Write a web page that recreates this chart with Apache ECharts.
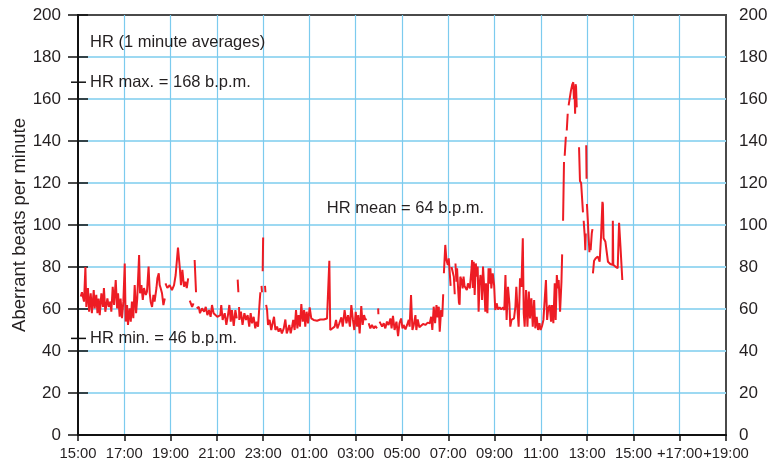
<!DOCTYPE html>
<html>
<head>
<meta charset="utf-8">
<script src="https://cdn.jsdelivr.net/npm/echarts@6/dist/echarts.min.js"></script>
<style>html,body{margin:0;padding:0;background:#fff}#c{width:771px;height:468px}</style>
</head>
<body>
<div id="c"></div>
<script>
// x tick labels (every 2 hours starting 15:00)
const xTickLabels = ['15:00','17:00','19:00','21:00','23:00','01:00','03:00','05:00','07:00','09:00','11:00','13:00','15:00','+17:00','+19:00'];
const yAxisName = 'Aberrant beats per minute';
const hrMax = 168, hrMin = 46, hrMean = 64;
// [hours after 15:00, bpm]; null = gap
const hrTrace = [
[0.12,66],[0.17,68],[0.26,63.5],[0.32,80],[0.36,61],[0.43,70],[0.48,58.7],[0.55,67.5],[0.6,58],[0.68,69],
[0.72,60.3],[0.79,66.7],[0.84,58],[0.89,65],[0.94,57.1],[1.01,67.5],[1.08,61],[1.12,70],[1.18,58.7],[1.27,65],
[1.33,61],[1.4,63.5],[1.44,58.7],[1.5,70.6],[1.56,61.9],[1.63,73.8],[1.69,60.3],[1.73,67.5],[1.8,56.3],[1.84,65],
[1.9,55.6],[1.96,63.5],[2.02,81.7],[2.06,54],[2.12,61.9],[2.16,52.4],[2.23,60.3],[2.28,54],[2.33,63.5],[2.39,55.6],
[2.45,71.4],[2.51,58],[2.56,65],[2.64,85.7],[2.68,67.5],[2.74,71.4],[2.8,64.3],[2.85,70],[2.93,66.7],[2.98,68.3],
[3.05,80.2],[3.1,67.5],[3.14,63.5],[3.2,61],[3.26,66.7],[3.31,63.5],[3.39,70],[3.43,74.6],[3.49,77],[3.53,71.4],
[3.57,70],[3.63,67.5],[3.69,61.9],[3.75,65],[3.76,null],[3.78,72.2],[3.86,70],[3.96,71.4],[4.06,69],[4.15,71.4],
[4.22,76.2],[4.32,89.2],[4.4,79.4],[4.45,71.4],[4.51,78.6],[4.58,70.6],[4.64,73],[4.7,70],[4.76,74.6],[4.8,null],
[4.83,64],[4.87,63.5],[4.93,61],[4.99,62.7],[5.01,null],[5.04,83.3],[5.1,68],[5.11,null],[5.13,60.3],[5.22,61],
[5.27,58],[5.36,60.3],[5.45,58.7],[5.52,61],[5.59,57.1],[5.66,59.5],[5.73,56.3],[5.79,61.9],[5.86,58],[5.94,57.1],
[6.02,56.3],[6.1,56],[6.15,57.1],[6.19,61.9],[6.25,54.8],[6.34,58],[6.41,52.4],[6.48,57.1],[6.54,61.9],[6.6,54],
[6.65,59.5],[6.73,52],[6.8,59.5],[6.86,55.5],[6.88,null],[6.9,74],[6.93,68],[6.94,null],[6.96,61],[6.97,54.8],
[7.04,58.7],[7.11,52.4],[7.19,58],[7.26,54.8],[7.33,57.1],[7.4,51.6],[7.46,58],[7.52,53.2],[7.59,56.3],[7.66,50.8],
[7.72,54],[7.78,51.6],[7.85,63.5],[7.88,68],[7.9,null],[7.93,71],[7.95,68],[7.96,null],[7.98,78],[8.0,94],
[8.01,null],[8.08,71],[8.1,68],[8.11,null],[8.13,62],[8.17,59.5],[8.21,52.4],[8.28,54.8],[8.35,50],[8.41,53.2],
[8.47,56.3],[8.53,50],[8.6,51.6],[8.67,49.2],[8.74,50.8],[8.81,48.4],[8.89,50.8],[8.96,55],[9.02,48.4],[9.07,50],
[9.13,52.4],[9.19,48.4],[9.25,51.6],[9.3,54.8],[9.36,50],[9.42,59.5],[9.48,50.8],[9.53,57.1],[9.59,51.6],[9.65,62.4],
[9.71,54],[9.77,59.5],[9.82,51.6],[9.88,58.7],[9.94,53.2],[10.01,60.8],[10.08,55.5],[10.18,54.8],[10.33,54.4],[10.47,55],
[10.62,55],[10.76,55.5],[10.83,56],[10.86,83],[10.9,50],[10.97,50.3],[11.09,51.6],[11.15,54.8],[11.21,50.8],[11.29,53.2],
[11.38,56],[11.44,51.6],[11.52,59.5],[11.6,53.2],[11.67,57.1],[11.75,51.6],[11.81,61.9],[11.88,54.8],[11.94,50],[12.0,58.7],
[12.06,51.6],[12.11,57.1],[12.17,48.4],[12.24,61.4],[12.3,52.4],[12.36,57.1],[12.42,54.8],[12.46,55.5],[12.5,null],[12.56,53.2],
[12.63,50.8],[12.7,52.4],[12.78,50.8],[12.85,51.9],[12.92,50.8],[12.94,null],[12.97,60.3],[12.98,57.5],[12.99,null],[13.03,54],
[13.06,54.8],[13.14,51.6],[13.21,53.2],[13.28,50.8],[13.35,54],[13.42,52.4],[13.5,55.5],[13.55,50.8],[13.61,56.7],[13.68,50],
[13.76,54],[13.83,47.1],[13.89,53.2],[13.96,55.5],[14.02,50.8],[14.07,52.4],[14.15,50.3],[14.22,52.4],[14.29,54.8],[14.33,51.6],
[14.39,66.7],[14.45,50],[14.51,52.4],[14.58,57.1],[14.62,50],[14.68,55],[14.75,51.3],[14.82,51.6],[14.91,52.9],[15.01,52.4],
[15.11,53.5],[15.2,53.2],[15.26,56.3],[15.31,50],[15.37,61.1],[15.43,53.2],[15.49,61.9],[15.54,56],[15.59,61.1],[15.63,49.2],
[15.69,59.5],[15.74,56.3],[15.78,67],[15.79,null],[15.81,77],[15.87,90.5],[15.92,83.3],[15.98,81],[16.02,84.1],[16.06,77.8],
[16.1,71],[16.11,null],[16.14,80],[16.18,80.2],[16.24,75.4],[16.28,67],[16.29,null],[16.31,81.7],[16.35,73],[16.38,79.4],
[16.42,70.6],[16.46,63],[16.49,62],[16.52,75.4],[16.57,73.8],[16.62,69.8],[16.66,75.4],[16.7,71],[16.74,71.4],[16.8,69],
[16.85,72.2],[16.93,69.8],[17.0,78.6],[17.03,83.3],[17.06,70],[17.1,82.5],[17.14,66.7],[17.19,81.7],[17.23,75.4],[17.27,80.2],
[17.31,58.7],[17.35,71],[17.39,76.2],[17.44,72.2],[17.46,64.3],[17.5,80.2],[17.57,66.7],[17.6,58.7],[17.63,72.2],[17.69,58],
[17.74,79.4],[17.78,72],[17.82,79.4],[17.86,69.8],[17.92,77],[17.98,71.4],[18.03,59.5],[18.09,62.7],[18.15,59.8],[18.22,60.8],
[18.29,59.8],[18.37,60.8],[18.42,59.5],[18.47,76.2],[18.52,54.8],[18.58,70.6],[18.64,62.7],[18.68,51.6],[18.73,54.8],[18.78,55.1],
[18.84,55.5],[18.9,61.1],[18.94,70.6],[19.0,58],[19.04,51.6],[19.1,74.6],[19.16,70.6],[19.22,93.7],[19.26,58],[19.3,51.6],
[19.36,69],[19.42,51.6],[19.48,68.3],[19.53,55.5],[19.59,65.1],[19.65,51.6],[19.71,64.3],[19.76,50.8],[19.82,56.3],[19.88,50],
[19.94,53.2],[19.99,50],[20.05,51.9],[20.11,54.8],[20.17,54],[20.22,73.8],[20.27,54.8],[20.32,60.3],[20.38,61.9],[20.44,54],
[20.48,61.9],[20.54,53.2],[20.6,72.2],[20.64,54.8],[20.69,76.2],[20.74,69.8],[20.77,73.8],[20.83,58.7],[20.89,73],[20.92,86],
[20.94,null],[20.96,102],[21.0,130],[21.02,null],[21.03,133],[21.08,142],[21.1,null],[21.12,145],[21.16,153],[21.18,null],
[21.2,157],[21.3,164],[21.36,167],[21.4,168],[21.43,160],[21.45,166],[21.48,153],[21.5,167],[21.52,166],[21.55,156],
[21.56,null],[21.65,137],[21.69,121],[21.74,120],[21.82,106],[21.83,null],[21.85,102],[21.9,94],[21.92,88],[21.94,96],
[21.95,null],[21.96,138],[21.975,122],[21.98,null],[21.99,110],[22.03,102],[22.06,95],[22.1,87],[22.12,null],[22.15,88],
[22.2,96],[22.23,98],[22.235,null],[22.25,77],[22.3,83],[22.36,84],[22.46,85],[22.5,84.5],[22.54,82.5],[22.6,94.4],
[22.66,111],[22.68,110],[22.71,93.7],[22.79,92],[22.84,91.3],[22.9,82.5],[23.0,81.4],[23.1,81],[23.11,102],[23.13,81],
[23.22,80.2],[23.32,79.4],[23.38,101],[23.44,89.7],[23.52,73.8]
];

const FONT = "'Liberation Sans',Arial,Helvetica,sans-serif";
const chart = echarts.init(document.getElementById('c'), null, {renderer: 'canvas'});
const txt = '#231f20';
const lastIdx = xTickLabels.length - 1;
const xLabelStyle = {margin: 11, color: txt, fontFamily: FONT, fontSize: 14.8, hideOverlap: false};
const option = {
  animation: false,
  backgroundColor: '#fff',
  grid: {left: 78, right: 45, top: 15, bottom: 33, containLabel: false, outerBoundsMode: 'none',
    show: true, borderColor: '#4a4a4a', borderWidth: 2, backgroundColor: 'transparent'},
  xAxis: [{
    type: 'value', min: 0, max: 28, interval: 2,
    axisLine: {lineStyle: {color: '#111', width: 2}},
    axisTick: {length: 6, lineStyle: {color: '#111', width: 1.5}},
    axisLabel: Object.assign({}, xLabelStyle, {showMinLabel: true,
      formatter: v => { const i = Math.round(v / 2); return i < lastIdx ? xTickLabels[i] : ''; }}),
    splitLine: {show: true, showMaxLine: false, showMinLine: false, lineStyle: {color: '#7ccbee', width: 1.2}}
  }, {
    // carries only the last tick label so it is not dropped by min/max overlap logic
    type: 'value', min: 0, max: 28, interval: 2, position: 'bottom',
    axisLine: {show: false}, axisTick: {show: false}, splitLine: {show: false},
    axisLabel: Object.assign({}, xLabelStyle, {showMaxLabel: true,
      formatter: v => { const i = Math.round(v / 2); return i === lastIdx ? xTickLabels[i] : ''; }})
  }],
  yAxis: [{
    type: 'value', min: 0, max: 200, interval: 20, position: 'left',
    name: yAxisName, nameLocation: 'middle', nameGap: 49, nameMoveOverlap: false,
    nameTextStyle: {color: txt, fontFamily: FONT, fontSize: 18.5},
    axisLine: {show: true, lineStyle: {color: '#111', width: 2}},
    axisTick: {show: true, length: 10, lineStyle: {color: '#111', width: 1.5}},
    axisLabel: {margin: 17, color: txt, fontFamily: FONT, fontSize: 17, showMinLabel: true, showMaxLabel: true},
    splitLine: {show: true, showMaxLine: false, showMinLine: false, lineStyle: {color: '#9dd9f2', width: 2}}
  }, {
    type: 'value', min: 0, max: 200, interval: 20, position: 'right',
    axisLine: {show: true, lineStyle: {color: '#111', width: 2}},
    axisTick: {show: true, length: 10, lineStyle: {color: '#111', width: 1.5}},
    axisLabel: {margin: 13, color: txt, fontFamily: FONT, fontSize: 17, showMinLabel: true, showMaxLabel: true},
    splitLine: {show: false}
  }],
  series: [{
    type: 'line', xAxisIndex: 0, yAxisIndex: 0, data: hrTrace, showSymbol: false, symbol: 'none', connectNulls: false,
    lineStyle: {color: '#ed1c24', width: 2}, itemStyle: {color: '#ed1c24'}, z: 5
  }]
};
chart.setOption(option);

const px = (h, v) => chart.convertToPixel({gridIndex: 0}, [h, v]);
const x0 = px(0, 0)[0];
const textStyle = (text, x, y, align) => ({
  type: 'text', x: x, y: y, z: 10,
  style: {text: text, fill: txt, font: '16.5px ' + FONT, textAlign: align || 'left', textVerticalAlign: 'middle'}
});
const mark = v => ({type: 'line', z: 10, shape: {x1: x0 - 7, y1: px(0, v)[1], x2: x0 + 8, y2: px(0, v)[1]}, style: {stroke: '#111', lineWidth: 1.5}});
chart.setOption({graphic: [
  textStyle('HR (1 minute averages)', x0 + 12, px(0, 187)[1]),
  mark(hrMax),
  textStyle('HR max. = ' + hrMax + ' b.p.m.', x0 + 12, px(0, hrMax)[1]),
  mark(hrMin),
  textStyle('HR min. = ' + hrMin + ' b.p.m.', x0 + 12, px(0, hrMin)[1]),
  textStyle('HR mean = ' + hrMean + ' b.p.m.', px(14.15, 0)[0], px(0, 108)[1], 'center')
]});
</script>
</body>
</html>
